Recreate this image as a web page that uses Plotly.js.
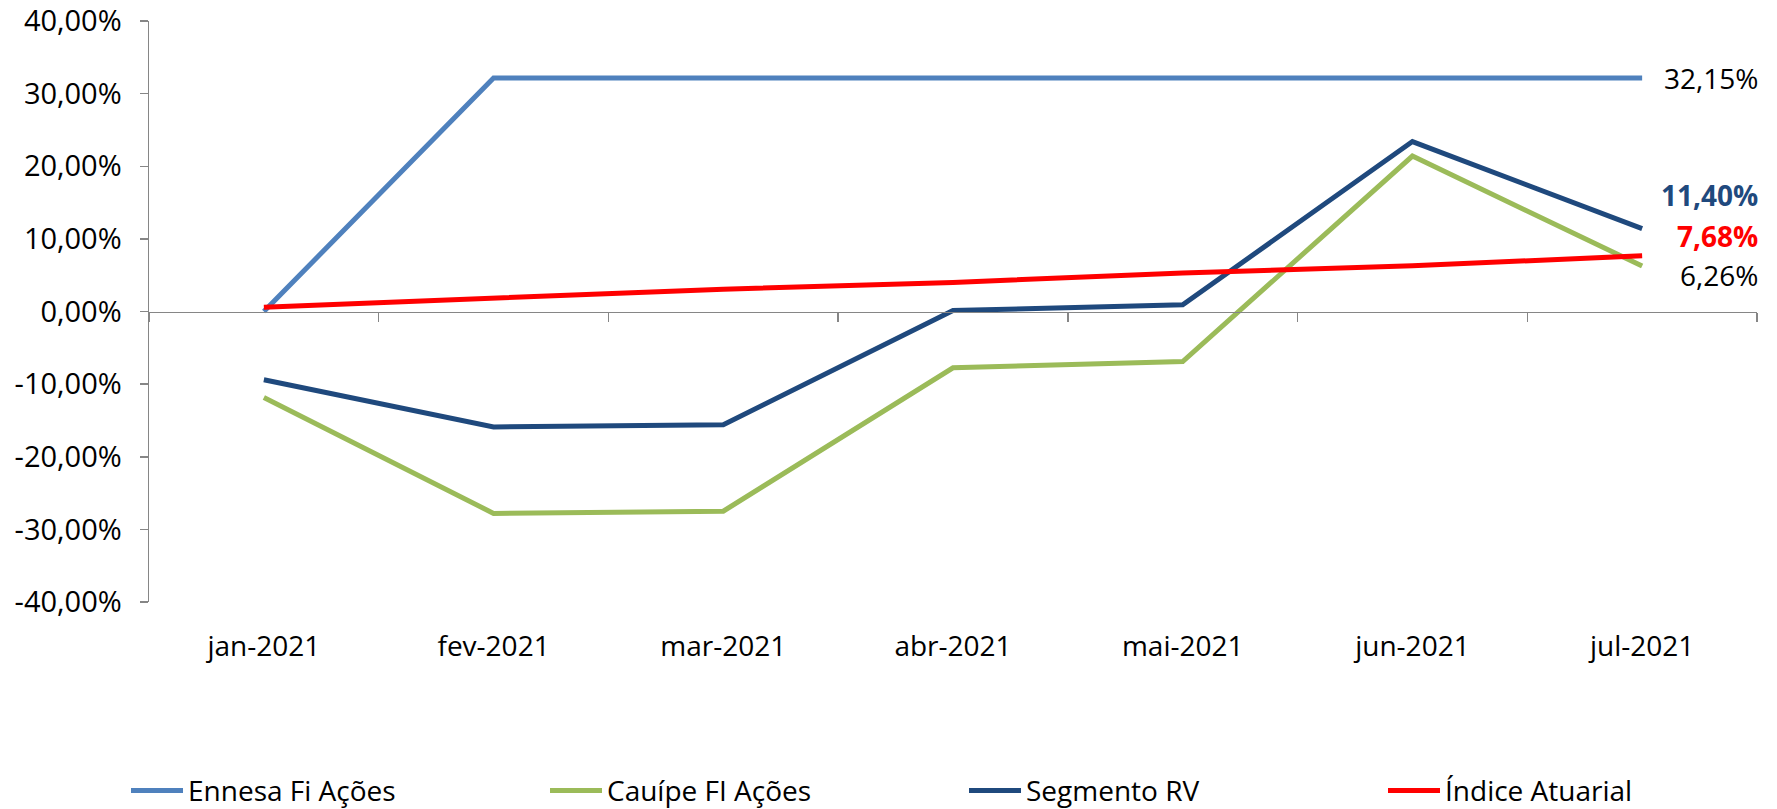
<!DOCTYPE html>
<html>
<head>
<meta charset="utf-8">
<script src="https://cdn.plot.ly/plotly-3.0.1.min.js"></script>
<style>
  html, body { margin: 0; padding: 0; background: #fff; }
  #chart { width: 1777px; height: 809px; }
</style>
</head>
<body>
<div id="chart"></div>
<script>
// Rentabilidade acumulada 2021 (em %)
var months = ["jan-2021", "fev-2021", "mar-2021", "abr-2021", "mai-2021", "jun-2021", "jul-2021"];
var ennesa = [0, 32.15, 32.15, 32.15, 32.15, 32.15, 32.15];
var cauipe = [-11.85, -27.8, -27.5, -7.75, -6.9, 21.4, 6.26];
var segmentoRV = [-9.4, -15.9, -15.6, 0.14, 0.92, 23.4, 11.40];
var indiceAtuarial = [0.6, 1.85, 3.08, 4.0, 5.3, 6.3, 7.68];
var yTicks = [-40, -30, -20, -10, 0, 10, 20, 30, 40];

function pct(v) {
  return v.toFixed(2).replace(".", ",") + "%";
}

var fontFamily = "'Open Sans', 'Noto Sans', sans-serif";
var axisGray = "#868686";

var data = [
  {
    x: months, y: ennesa, name: "Ennesa Fi Ações",
    type: "scatter", mode: "lines",
    line: { color: "#4F81BD", width: 5 }
  },
  {
    x: months, y: cauipe, name: "Cauípe FI Ações",
    type: "scatter", mode: "lines",
    line: { color: "#9BBB59", width: 5 }
  },
  {
    x: months, y: segmentoRV, name: "Segmento RV",
    type: "scatter", mode: "lines",
    line: { color: "#1F497D", width: 5 }
  },
  {
    x: months, y: indiceAtuarial, name: "Índice Atuarial",
    type: "scatter", mode: "lines",
    line: { color: "#FF0000", width: 5 }
  }
];

var last = months.length - 1;

// end-of-line value labels
function endLabel(v, color, bold, shift) {
  return {
    xref: "paper", x: 1, xanchor: "right", xshift: 3,
    yref: "y", y: v, yanchor: "middle", yshift: shift,
    text: bold ? "<b>" + pct(v) + "</b>" : pct(v),
    showarrow: false,
    font: { family: fontFamily, size: 28, color: color }
  };
}

var layout = {
  width: 1777,
  height: 809,
  paper_bgcolor: "#fff",
  plot_bgcolor: "#fff",
  margin: { l: 149, r: 20, t: 21, b: 207, autoexpand: false },
  font: { family: fontFamily, size: 28, color: "#000" },
  showlegend: true,
  legend: {
    orientation: "h",
    x: -0.0143, xanchor: "left",
    y: -0.325, yanchor: "middle",
    font: { family: fontFamily, size: 28, color: "#000" },
    entrywidth: 352,
    itemwidth: 52
  },
  xaxis: {
    type: "category",
    range: [-0.5, 6.5],
    anchor: "free",
    position: 0.5,
    showline: true,
    linecolor: axisGray,
    linewidth: 1.5,
    ticks: "outside",
    tickson: "boundaries",
    ticklen: 9,
    tickcolor: axisGray,
    tickwidth: 1.5,
    ticklabelstandoff: 309,
    tickfont: { family: fontFamily, size: 28, color: "#000" },
    showgrid: false,
    zeroline: false,
    automargin: false
  },
  yaxis: {
    range: [-40, 40],
    tickvals: yTicks,
    ticktext: yTicks.map(pct),
    showline: true,
    linecolor: axisGray,
    linewidth: 1.5,
    ticks: "outside",
    ticklen: 8,
    tickcolor: axisGray,
    tickwidth: 1.5,
    ticklabelstandoff: 12,
    tickfont: { family: fontFamily, size: 29, color: "#000" },
    showgrid: false,
    zeroline: false,
    automargin: false
  },
  annotations: [
    endLabel(ennesa[last], "#000", false, 0),
    endLabel(segmentoRV[last], "#1F497D", true, 34),
    endLabel(indiceAtuarial[last], "#FF0000", true, 20),
    endLabel(cauipe[last], "#000", false, -9)
  ]
};

Plotly.newPlot("chart", data, layout, { displayModeBar: false, staticPlot: true });
</script>
</body>
</html>
